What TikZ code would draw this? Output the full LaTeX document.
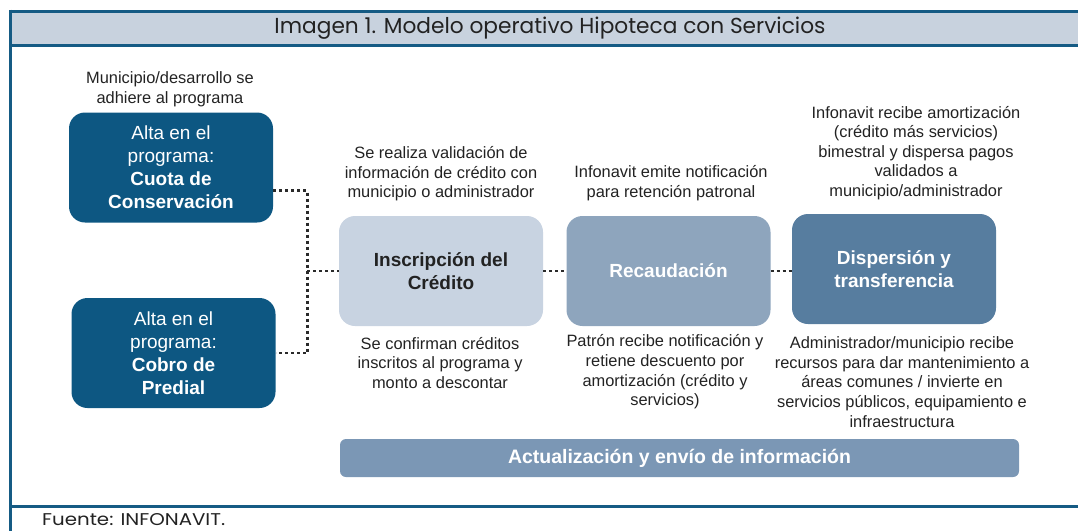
\documentclass[tikz,border=0pt]{standalone}
\usepackage{fontspec}
\setmainfont{Liberation Sans}
\newfontfamily\titlefont{Poppins}
\usetikzlibrary{calc}
\definecolor{framec}{HTML}{155B84}
\definecolor{bandc}{HTML}{C8D2DE}
\definecolor{darkbox}{HTML}{0D5782}
\definecolor{lightbox}{HTML}{C8D3E1}
\definecolor{midbox}{HTML}{8EA5BD}
\definecolor{deepbox}{HTML}{577D9F}
\definecolor{barc}{HTML}{7B97B5}
\definecolor{txt}{HTML}{222222}
\definecolor{dotc}{HTML}{2A2A2A}
\tikzset{
  boxstyle/.style={rounded corners=16pt, minimum width=204pt, minimum height=110pt, align=center, inner sep=0pt,
     font=\fontsize{19}{23}\selectfont},
  lbl/.style={align=center, inner sep=0pt, text=txt, font=\fontsize{16.4}{19.6}\selectfont},
  dotline/.style={draw=dotc, line width=2.6pt, dash pattern=on 3pt off 3pt},
  frameline/.style={draw=framec, line width=3pt}
}
\begin{document}
\begin{tikzpicture}[x=1pt,y=-1pt]
\useasboundingbox (0,0) rectangle (1078,531);
% frame
\fill[bandc] (10,11) rectangle (1078,45);
\draw[frameline] (10,11) -- (1078,11);
\draw[frameline] (10,45) -- (1078,45);
\draw[frameline] (10,9.5) -- (10,531);
\draw[frameline] (10,506) -- (1078,506);
\node[inner sep=0pt, text=txt] (title) at (550,28) {\resizebox{551pt}{!}{\titlefont\fontsize{20}{24}\selectfont Imagen 1. Modelo operativo Hipoteca con Servicios}};
\node[inner sep=0pt, anchor=west, text=txt] (fuente) at (42,519.5) {\resizebox{183pt}{12pt}{\titlefont\fontsize{18}{20}\selectfont Fuente: INFONAVIT.}};

% boxes
\node[boxstyle, fill=darkbox, text=white] (cuota) at (171,167.5) {Alta en el\\programa:\\\textbf{Cuota de}\\\textbf{Conservación}};
\node[boxstyle, fill=darkbox, text=white] (predial) at (173.5,353) {Alta en el\\programa:\\\textbf{Cobro de}\\\textbf{Predial}};
\node[boxstyle, fill=lightbox, text=txt] (insc) at (441,271) {\textbf{Inscripción del}\\\textbf{Crédito}};
\node[boxstyle, fill=midbox, text=white] (recau) at (668.5,271) {\textbf{Recaudación}};
\node[boxstyle, fill=deepbox, text=white] (disp) at (894,269) {\textbf{Dispersión y}\\\textbf{transferencia}};
\node[rounded corners=6pt, fill=barc, text=white, minimum width=679pt, minimum height=38pt, inner sep=0pt] (bar) at (679.5,458)
  {\raisebox{-2.5pt}{\resizebox{343pt}{!}{\fontsize{18}{20}\selectfont\bfseries Actualización y envío de información}}};

% labels
\node[lbl] (l1) at (170,89) {Municipio/desarrollo se\\adhiere al programa};
\node[lbl] (l2) at (441,174) {Se realiza validación de\\información de crédito con\\municipio o administrador};
\node[lbl] (l3) at (671,183) {Infonavit emite notificación\\para retención patronal};
\node[lbl] (l4) at (916,153) {Infonavit recibe amortización\\(crédito más servicios)\\bimestral y dispersa pagos\\validados a\\municipio/administrador};
\node[lbl] (l5) at (440,363) {Se confirman créditos\\inscritos al programa y\\monto a descontar};
\node[lbl] (l6) at (665,372) {Patrón recibe notificación y\\retiene descuento por\\amortización (crédito y\\servicios)};
\node[lbl] (l7) at (902,382) {Administrador/municipio recibe\\recursos para dar mantenimiento a\\áreas comunes / invierte en\\servicios públicos, equipamiento e\\infraestructura};

% connectors
\coordinate (jt) at ($(cuota.east)+(34,23)$);
\coordinate (jb) at ($(predial.east)+(31.5,0)$);
\draw[dotline] ($(cuota.east)+(0,23)$) -- (jt) -- (jb) -- (predial.east);
\draw[dotline] (insc.west -| jt) -- (insc.west);
\draw[dotline] (insc.east) -- (recau.west);
\draw[dotline] (recau.east) -- (recau.east -| disp.west);
\end{tikzpicture}
\end{document}
